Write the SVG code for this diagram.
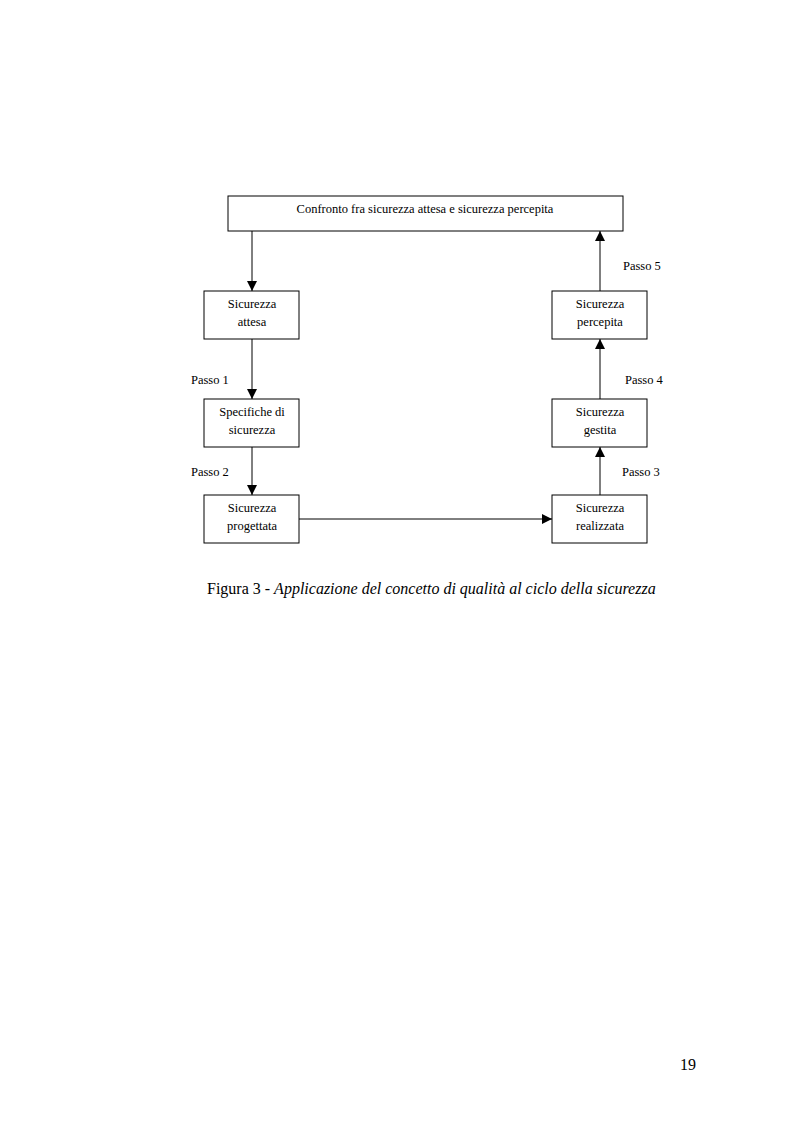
<svg xmlns="http://www.w3.org/2000/svg" width="793" height="1123" viewBox="0 0 793 1123">
<defs>
<marker id="ah" viewBox="0 0 10 10" refX="10" refY="5" markerWidth="10" markerHeight="10" markerUnits="userSpaceOnUse" orient="auto">
<path d="M0,0 L10,5 L0,10 z" fill="#000"/>
</marker>
<style>
.box{fill:#fff;stroke:#000;stroke-width:1}
.t{font-family:"Liberation Serif",serif;font-size:12.5px;fill:#000;text-anchor:middle}
.l{font-family:"Liberation Serif",serif;font-size:12.5px;fill:#000}
.c{stroke:#000;stroke-width:1;fill:none;marker-end:url(#ah)}
</style>
</defs>
<rect width="793" height="1123" fill="#fff"/>
<g id="connectors">
<line class="c" x1="252" y1="231" x2="252" y2="291"/>
<line class="c" x1="252" y1="339" x2="252" y2="399"/>
<line class="c" x1="252" y1="447" x2="252" y2="495"/>
<line class="c" x1="299" y1="519" x2="552" y2="519"/>
<line class="c" x1="600" y1="495" x2="600" y2="447"/>
<line class="c" x1="600" y1="399" x2="600" y2="339"/>
<line class="c" x1="600" y1="291" x2="600" y2="231"/>
<text class="l" x="191" y="384">Passo 1</text>
<text class="l" x="191" y="476">Passo 2</text>
<text class="l" x="622" y="476">Passo 3</text>
<text class="l" x="625" y="384">Passo 4</text>
<text class="l" x="623" y="270">Passo 5</text>
</g>
<g id="confronto">
<rect class="box" x="228" y="196" width="395" height="35"/>
<text class="t" x="425" y="213">Confronto fra sicurezza attesa e sicurezza percepita</text>
</g>
<g id="attesa">
<rect class="box" x="204" y="291" width="95" height="48"/>
<text class="t" x="252" y="308">Sicurezza</text>
<text class="t" x="252" y="326">attesa</text>
</g>
<g id="specifiche">
<rect class="box" x="204" y="399" width="95" height="48"/>
<text class="t" x="252" y="416">Specifiche di</text>
<text class="t" x="252" y="434">sicurezza</text>
</g>
<g id="progettata">
<rect class="box" x="204" y="495" width="95" height="48"/>
<text class="t" x="252" y="512">Sicurezza</text>
<text class="t" x="252" y="530">progettata</text>
</g>
<g id="realizzata">
<rect class="box" x="552" y="495" width="95" height="48"/>
<text class="t" x="600" y="512">Sicurezza</text>
<text class="t" x="600" y="530">realizzata</text>
</g>
<g id="gestita">
<rect class="box" x="552" y="399" width="95" height="48"/>
<text class="t" x="600" y="416">Sicurezza</text>
<text class="t" x="600" y="434">gestita</text>
</g>
<g id="percepita">
<rect class="box" x="552" y="291" width="95" height="48"/>
<text class="t" x="600" y="308">Sicurezza</text>
<text class="t" x="600" y="326">percepita</text>
</g>
<text x="207" y="594" style="font-family:'Liberation Serif',serif;font-size:16px">Figura 3 - <tspan font-style="italic">Applicazione del concetto di qualità al ciclo della sicurezza</tspan></text>
<text x="680" y="1070" style="font-family:'Liberation Serif',serif;font-size:16px">19</text>
</svg>
